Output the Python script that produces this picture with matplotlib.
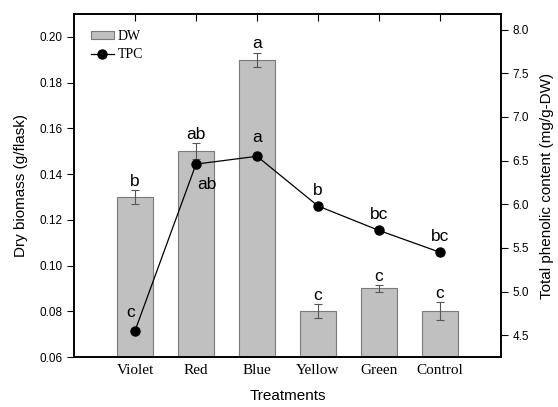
import matplotlib
matplotlib.use('Agg')
import matplotlib.pyplot as plt
import numpy as np

treatments = ['Violet', 'Red', 'Blue', 'Yellow', 'Green', 'Control']
dw = [0.130, 0.150, 0.190, 0.080, 0.090, 0.080]
dw_err = [0.003, 0.0035, 0.003, 0.003, 0.0015, 0.004]
dw_letters = ['b', 'ab', 'a', 'c', 'c', 'c']
tpc = [4.55, 6.46, 6.55, 5.98, 5.70, 5.45]
tpc_err = [0.02, 0.04, 0.03, 0.04, 0.03, 0.03]
tpc_letters = ['c', 'ab', 'a', 'b', 'bc', 'bc']

sans = 'Liberation Sans'
serif = 'Liberation Serif'


def main():
    x = np.arange(len(treatments))
    fig = plt.figure(figsize=(5.58, 4.07), dpi=100)
    ax = fig.add_axes([74 / 558, 50 / 407, 427 / 558, 343 / 407])
    ax2 = ax.twinx()

    bars = ax.bar(x, dw, width=0.6, color='#c0c0c0', edgecolor='#7a7a7a',
                  linewidth=0.8, label='DW', zorder=2)
    ax.errorbar(x, dw, yerr=dw_err, fmt='none', ecolor='#555555',
                elinewidth=0.8, capsize=3, capthick=0.8, zorder=3)
    for xi, v, e, t in zip(x, dw, dw_err, dw_letters):
        ax.annotate(t, (xi, v + e), xytext=(0, 1), textcoords='offset points',
                    ha='center', va='bottom', fontsize=12.5, family=sans)

    line, = ax2.plot(x, tpc, '-o', color='black', lw=0.9, ms=6.5,
                     label='TPC', zorder=4)
    ax2.errorbar(x, tpc, yerr=tpc_err, fmt='none', ecolor='#555555',
                 elinewidth=0.8, capsize=2, zorder=3)
    # letter offsets (points) next to each TPC marker
    offs = [(-3, 8), (8, -20), (0, 8), (0, 6), (0, 6), (0, 6)]
    for xi, v, t, o in zip(x, tpc, tpc_letters, offs):
        ax2.annotate(t, (xi, v), xytext=o, textcoords='offset points',
                     ha='center', va='bottom', fontsize=12.5, family=sans)

    ax.set_xlim(-1, 6)
    ax.set_ylim(0.06, 0.21)
    ax.set_yticks(np.arange(0.06, 0.201, 0.02))
    ax.set_yticklabels(['%.2f' % v for v in np.arange(0.06, 0.201, 0.02)],
                       family=sans, fontsize=8.5)
    ax2.set_ylim(4.25, 8.18)
    ax2.set_yticks(np.arange(4.5, 8.01, 0.5))
    ax2.set_yticklabels(['%.1f' % v for v in np.arange(4.5, 8.01, 0.5)],
                        family=sans, fontsize=8.5)
    ax.set_xticks(x)
    ax.set_xticklabels(treatments, family=serif, fontsize=11)

    ax.tick_params(axis='x', direction='in', top=True, length=5, pad=5)
    ax.tick_params(axis='y', direction='out', length=5)
    ax2.tick_params(axis='y', direction='out', length=5)
    for a in (ax, ax2):
        for s in a.spines.values():
            s.set_linewidth(1.2)

    ax.set_xlabel('Treatments', family=sans, fontsize=11, labelpad=9)
    ax.set_ylabel('Dry biomass (g/flask)', family=sans, fontsize=11, labelpad=8)
    ax2.set_ylabel('Total phenolic content (mg/g-DW)', family=sans,
                   fontsize=11, labelpad=8)

    ax2.legend([bars, line], ['DW', 'TPC'], loc='upper left', frameon=False,
               prop={'family': serif, 'size': 10}, handlelength=1.65,
               handleheight=0.5, handletextpad=0.3, labelspacing=0.4,
               bbox_to_anchor=(0.01, 0.99))

    fig.savefig('out.png', dpi=100)


if __name__ == "__main__":
    main()
